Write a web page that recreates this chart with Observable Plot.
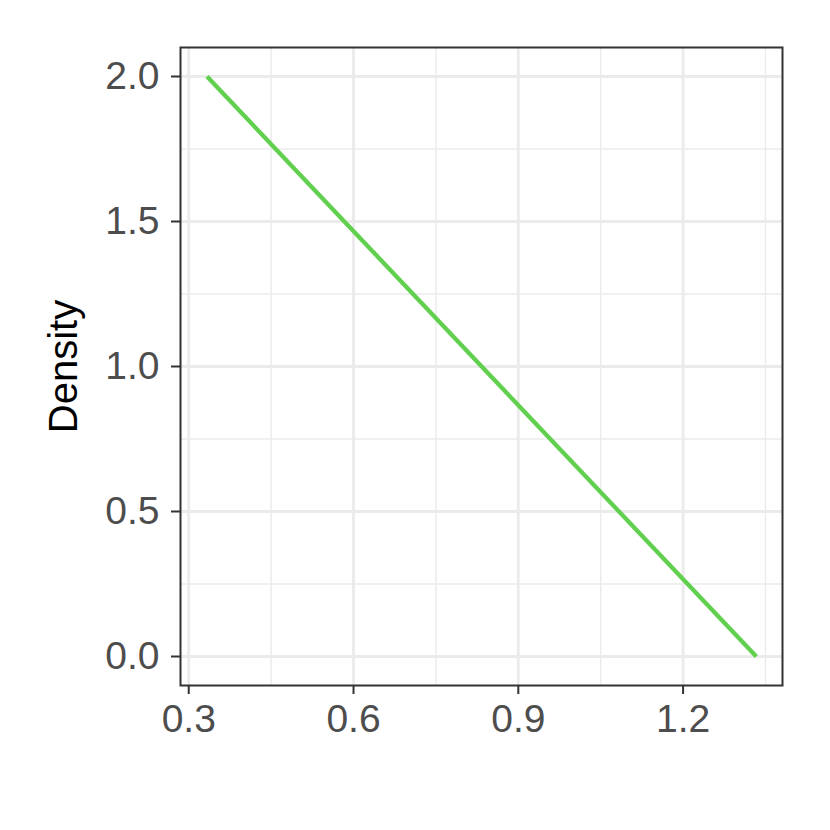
<!DOCTYPE html>
<html>
<head>
<meta charset="utf-8">
<script src="https://cdn.jsdelivr.net/npm/d3@7"></script>
<script src="https://cdn.jsdelivr.net/npm/@observablehq/plot@0.6"></script>
<style>
  html, body { margin: 0; padding: 0; background: white; }
</style>
</head>
<body>
<div id="chart"></div>
<script>
const xValues = [0.3333, 0.8333, 1.3333];
const density = [2.0, 1.0, 0.0];
const xTicks = [0.3, 0.6, 0.9, 1.2];
const xMinor = [0.45, 0.75, 1.05, 1.35];
const yTicks = [0.0, 0.5, 1.0, 1.5, 2.0];
const yMinor = [0.25, 0.75, 1.25, 1.75];
const yTitle = "Density";

const data = xValues.map((x, i) => ({x, y: density[i]}));
const fmt = d3.format(".1f");

const chart = Plot.plot({
  width: 830,
  height: 830,
  marginLeft: 180,
  marginRight: 48,
  marginTop: 47,
  marginBottom: 145,
  style: {fontFamily: "Liberation Sans, Arial, sans-serif", background: "white"},
  x: {domain: [0.285, 1.381]},
  y: {domain: [-0.1, 2.1]},
  marks: [
    Plot.gridX(xMinor, {stroke: "#EBEBEB", strokeOpacity: 1, strokeWidth: 1.4}),
    Plot.gridY(yMinor, {stroke: "#EBEBEB", strokeOpacity: 1, strokeWidth: 1.4}),
    Plot.gridX(xTicks, {stroke: "#EBEBEB", strokeOpacity: 1, strokeWidth: 2.8}),
    Plot.gridY(yTicks, {stroke: "#EBEBEB", strokeOpacity: 1, strokeWidth: 2.8}),
    Plot.line(data, {x: "x", y: "y", stroke: "#61D04F", strokeWidth: 4.3, strokeLinecap: "butt"}),
    Plot.frame({stroke: "#333333", strokeWidth: 2}),
    Plot.axisX(xTicks, {tickFormat: fmt, tickSize: 9, tickPadding: 10, stroke: "#333333", strokeWidth: 2, fontSize: 39, fill: "#4D4D4D", label: null}),
    Plot.axisY(yTicks, {tickFormat: fmt, tickSize: 9, tickPadding: 12, stroke: "#333333", strokeWidth: 2, fontSize: 39, fill: "#4D4D4D", label: null}),
    Plot.text([yTitle], {frameAnchor: "left", text: d => d, rotate: -90, dx: -116, textAnchor: "middle", lineAnchor: "middle", fontSize: 40, fill: "black"})
  ]
});
document.getElementById("chart").appendChild(chart);
</script>
</body>
</html>
